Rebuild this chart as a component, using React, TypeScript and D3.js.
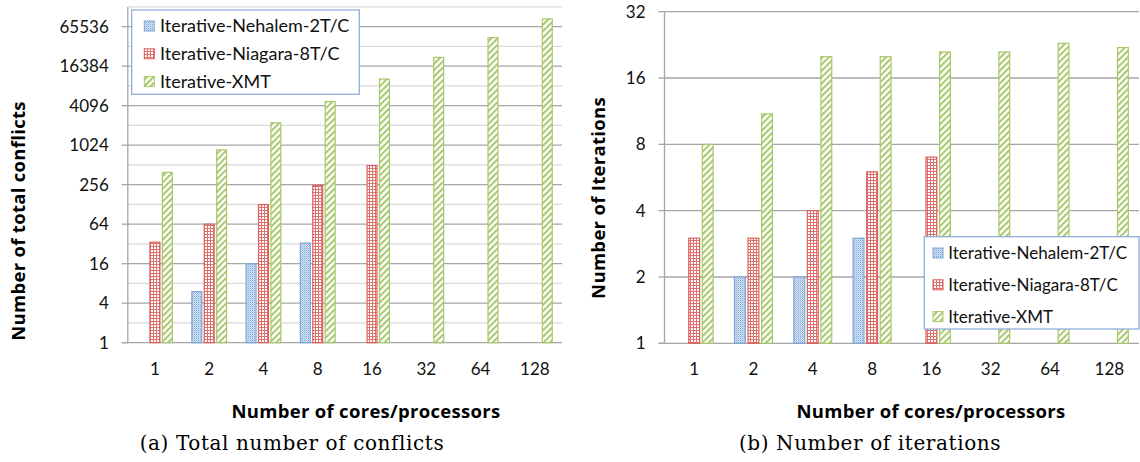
import React from "react";
import * as d3 from "d3";

const categories = ["1", "2", "4", "8", "16", "32", "64", "128"];
const seriesNames = ["Iterative-Nehalem-2T/C", "Iterative-Niagara-8T/C", "Iterative-XMT"];

// total conflicts (log2 axis)
const conflictsNehalem = [null, 6, 16, 33, null, null, null, null];
const conflictsNiagara = [34, 64, 127, 250, 500, null, null, null];
const conflictsXmt = [394, 870, 2240, 4730, 10450, 22300, 44500, 86000];
const conflictTicks = [1, 4, 16, 64, 256, 1024, 4096, 16384, 65536];

// number of iterations (log2 axis)
const iterNehalem = [null, 2, 2, 3, null, null, null, null];
const iterNiagara = [3, 3, 4, 6, 7, null, null, null];
const iterXmt = [8, 11, 20, 20, 21, 21, 23, 22];
const iterTicks = [1, 2, 4, 8, 16, 32];

const FONT = "Lato, 'Open Sans', sans-serif";
const BOLD_FONT = "'Open Sans', Lato, sans-serif";
const fills = ["url(#pat-dots)", "url(#pat-grid)", "url(#pat-diag)"];
const strokes = ["#7ea6d8", "#d9625f", "#a9c76b"];

type Legend = {
  x: number;
  y: number;
  w: number;
  h: number;
  first: number;
  step: number;
  swatchDx: number;
  textDx: number;
  fontSize: number;
};

type ChartProps = {
  series: (number | null)[][];
  ticks: number[];
  yMax: number;
  left: number;
  right: number;
  top: number;
  bottom: number;
  yTitle: string;
  yTitleX: number;
  yTitleY: number;
  xTitleX: number;
  caption: string;
  captionX: number;
  legend: Legend;
};

function Chart(p: ChartProps) {
  const x = d3.scaleBand().domain(categories).range([p.left, p.right]).padding(0);
  const bw = x.bandwidth();
  const inner = d3
    .scaleBand()
    .domain(seriesNames)
    .range([bw * 0.18, bw * 0.82])
    .paddingInner(0.2)
    .paddingOuter(0);
  const y = d3.scaleLog().base(2).domain([1, p.yMax]).range([p.bottom, p.top]);

  const exps = d3.range(1, Math.round(Math.log2(p.yMax)) + 1).map((e) => Math.pow(2, e));
  const isMajor = (v: number) => p.ticks.includes(v);
  const lg = p.legend;

  return (
    <g>
      {/* gridlines */}
      {exps.map((v) => (
        <line
          key={"g" + v}
          x1={p.left}
          x2={p.right}
          y1={y(v)}
          y2={y(v)}
          stroke={isMajor(v) ? "#a6a6a6" : "#d9d9d9"}
          strokeWidth={1.3}
        />
      ))}
      {/* axes */}
      <line x1={p.left} x2={p.left} y1={p.top} y2={p.bottom} stroke="#a6a6a6" strokeWidth={1.3} />
      <line x1={p.left - 6} x2={p.right} y1={p.bottom} y2={p.bottom} stroke="#a6a6a6" strokeWidth={1.3} />
      {p.ticks.map((t) => (
        <g key={"t" + t}>
          <line x1={p.left - 6} x2={p.left} y1={y(t)} y2={y(t)} stroke="#a6a6a6" strokeWidth={1.3} />
          <text
            x={p.left - 19}
            y={y(t)}
            dy="0.35em"
            textAnchor="end"
            fontFamily={FONT}
            fontSize={17}
            fill="#111"
          >
            {t}
          </text>
        </g>
      ))}
      {categories.map((c) => (
        <text
          key={"c" + c}
          x={(x(c) as number) + bw / 2}
          y={375}
          textAnchor="middle"
          fontFamily={FONT}
          fontSize={17}
          fill="#111"
        >
          {c}
        </text>
      ))}
      {/* bars */}
      {p.series.map((vals, si) =>
        vals.map((v, i) =>
          v == null ? null : (
            <rect
              key={"b" + si + "-" + i}
              x={(x(categories[i]) as number) + (inner(seriesNames[si]) as number)}
              y={y(v)}
              width={inner.bandwidth()}
              height={p.bottom - y(v)}
              fill={fills[si]}
              stroke={strokes[si]}
              strokeWidth={1.2}
            />
          )
        )
      )}
      {/* legend */}
      <rect x={lg.x} y={lg.y} width={lg.w} height={lg.h} fill="#fff" stroke="#8eb0dc" strokeWidth={1.3} />
      {seriesNames.map((s, si) => {
        const cy = lg.y + lg.first + si * lg.step;
        return (
          <g key={"l" + s}>
            <rect
              x={lg.x + lg.swatchDx}
              y={cy - 5}
              width={10}
              height={10}
              fill={fills[si]}
              stroke={strokes[si]}
              strokeWidth={1}
            />
            <text
              x={lg.x + lg.textDx}
              y={cy}
              dy="0.35em"
              fontFamily={FONT}
              fontSize={lg.fontSize}
              fill="#111"
            >
              {s}
            </text>
          </g>
        );
      })}
      {/* titles */}
      <text
        transform={`translate(${p.yTitleX},${p.yTitleY}) rotate(-90)`}
        textAnchor="middle"
        fontFamily={BOLD_FONT}
        fontWeight="bold"
        fontSize={18.5}
        letterSpacing={0.3}
        fill="#000"
      >
        {p.yTitle}
      </text>
      <text
        x={p.xTitleX}
        y={418}
        textAnchor="middle"
        fontFamily={BOLD_FONT}
        fontWeight="bold"
        fontSize={18.5}
        letterSpacing={0.3}
        fill="#000"
      >
        Number of cores/processors
      </text>
      <text
        x={p.captionX}
        y={450}
        textAnchor="middle"
        fontFamily="'DejaVu Serif', 'Liberation Serif', serif"
        fontSize={20}
        letterSpacing={0.6}
        fill="#000"
      >
        {p.caption}
      </text>
    </g>
  );
}

export default function App() {
  return (
    <svg
      width={1140}
      height={462}
      style={{ position: "absolute", left: 0, top: 0, background: "#fff" }}
    >
      <defs>
        <pattern id="pat-dots" width={2} height={2} patternUnits="userSpaceOnUse">
          <rect width={2} height={2} fill="#dbe6f4" />
          <rect width={1} height={1} fill="#7ea6d8" />
          <rect x={1} y={1} width={1} height={1} fill="#a9c4e6" />
        </pattern>
        <pattern id="pat-grid" width={3} height={3} patternUnits="userSpaceOnUse">
          <rect width={3} height={3} fill="#fff" />
          <rect width={3} height={1} fill="#e0706d" />
          <rect width={1} height={3} fill="#e0706d" />
        </pattern>
        <pattern
          id="pat-diag"
          width={4.5}
          height={4.5}
          patternUnits="userSpaceOnUse"
          patternTransform="rotate(45)"
        >
          <rect width={4.5} height={4.5} fill="#fff" />
          <rect width={2} height={4.5} fill="#a9c76b" />
        </pattern>
      </defs>
      <Chart
        series={[conflictsNehalem, conflictsNiagara, conflictsXmt]}
        ticks={conflictTicks}
        yMax={131072}
        left={127.8}
        right={562}
        top={6.9}
        bottom={342.7}
        yTitle="Number of total conflicts"
        yTitleX={25}
        yTitleY={221}
        xTitleX={366}
        caption="(a) Total number of conflicts"
        captionX={292}
        legend={{ x: 131.7, y: 10, w: 227.6, h: 84.3, first: 16, step: 27.8, swatchDx: 12.6, textDx: 28.3, fontSize: 18 }}
      />
      <Chart
        series={[iterNehalem, iterNiagara, iterXmt]}
        ticks={iterTicks}
        yMax={32}
        left={664.5}
        right={1139}
        top={11.7}
        bottom={343.3}
        yTitle="Number of Iterations"
        yTitleX={605}
        yTitleY={198}
        xTitleX={931}
        caption="(b) Number of iterations"
        captionX={870}
        legend={{ x: 924.3, y: 236.7, w: 214.7, h: 92.3, first: 16.3, step: 31.8, swatchDx: 8.7, textDx: 24, fontSize: 17 }}
      />
    </svg>
  );
}
